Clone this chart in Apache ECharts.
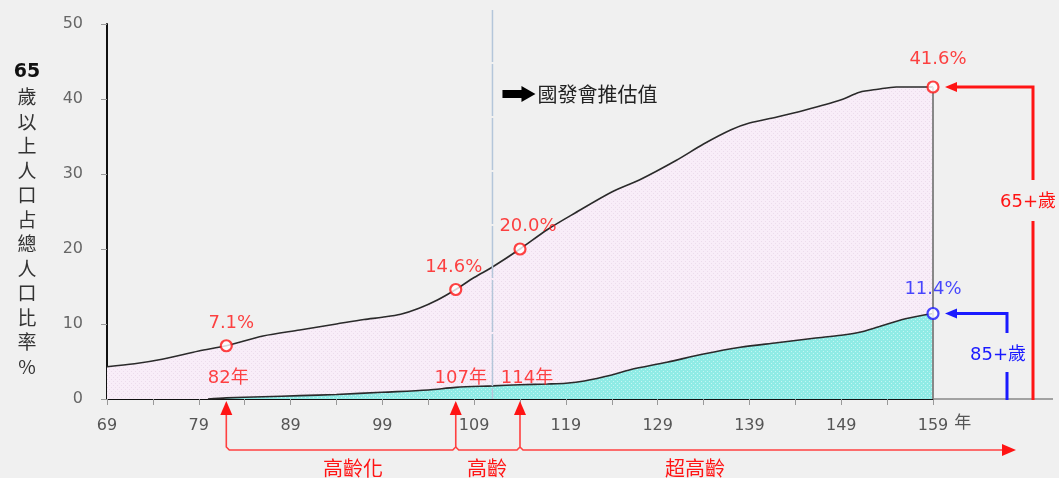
<!DOCTYPE html>
<html>
<head>
<meta charset="utf-8">
<script src="https://cdn.jsdelivr.net/npm/echarts@6/dist/echarts.min.js"></script>
<style>
  html, body { margin: 0; padding: 0; background: #f0f0f0; }
  #chart { width: 1059px; height: 478px; }
</style>
</head>
<body>
<div id="chart"></div>
<script>
// 65歲以上人口占總人口比率（民國年），含國發會推估值
const years65 = [69, 72, 75, 79, 82, 86, 90, 94, 97, 99, 101, 103, 105, 107, 109, 111, 114, 117, 120, 124, 127, 131, 134, 137, 139, 142, 145, 149, 151, 153, 155, 159];
const share65 = [4.3, 4.7, 5.3, 6.4, 7.1, 8.4, 9.2, 10.0, 10.6, 10.9, 11.3, 12.1, 13.2, 14.6, 16.2, 17.6, 20.0, 22.6, 24.8, 27.6, 29.2, 31.8, 34.0, 35.9, 36.8, 37.6, 38.5, 39.9, 40.9, 41.3, 41.6, 41.6];

// 85歲以上人口占總人口比率
const years85 = [80, 82, 86, 90, 94, 99, 104, 107, 111, 114, 117, 119, 121, 124, 126, 130, 134, 138, 142, 146, 149, 151, 153, 156, 159];
const share85 = [0, 0.15, 0.3, 0.45, 0.6, 0.9, 1.2, 1.55, 1.75, 1.9, 2.0, 2.1, 2.4, 3.2, 3.9, 4.9, 6.0, 6.9, 7.5, 8.1, 8.5, 8.9, 9.6, 10.7, 11.4];

// 高齡化、高齡、超高齡門檻年
const milestoneYears = [82, 107, 114];
const milestoneShare = [7.1, 14.6, 20.0];
const stageNames = ['高齡化', '高齡', '超高齡'];

const endYear = 159;
const end65 = 41.6;
const end85 = 11.4;
const projectionStart = 111;
const projectionText = '國發會推估值';

const xMin = 69, xMax = 159, xStep = 5;
const yMin = 0, yMax = 50, yStep = 10;
const yTitle = ['65', '歲', '以', '上', '人', '口', '占', '總', '人', '口', '比', '率', '%'];

const RED = '#ff1414';
const BLUE = '#1a1aff';
const FONT = "'DejaVu Sans', 'Noto Sans CJK TC', sans-serif";
const CJK = "'Noto Sans CJK TC', sans-serif";

function pattern(base, dot) {
  const c = document.createElement('canvas');
  c.width = 4; c.height = 4;
  const g = c.getContext('2d');
  g.fillStyle = base; g.fillRect(0, 0, 4, 4);
  g.fillStyle = dot; g.fillRect(1, 1, 1, 1); g.fillRect(3, 3, 1, 1);
  return { image: c, repeat: 'repeat' };
}

const chart = echarts.init(document.getElementById('chart'), null, { renderer: 'canvas' });

const labelOffsets = { 82: [5, 0], 107: [-2, 0], 114: [8, 0], 159: [5, -5] };
const yearOffsets = { 82: [2, 0], 107: [5, 0], 114: [7, 0] };

const markers65 = milestoneYears.map((y, i) => [y, milestoneShare[i]]).concat([[endYear, end65]]);

chart.setOption({
  backgroundColor: '#f0f0f0',
  animation: false,
  textStyle: { fontFamily: FONT },
  grid: { left: 107, right: 126, top: 24, bottom: 79 },
  xAxis: {
    type: 'value', min: xMin, max: xMax, interval: xStep,
    name: '年', nameLocation: 'end', nameGap: 13,
    nameTextStyle: { color: '#555', fontSize: 17, fontFamily: CJK, align: 'left', verticalAlign: 'top', padding: [14, 0, 0, 0] },
    axisLine: { show: true, lineStyle: { color: '#111', width: 2 } },
    axisTick: { show: true, length: 6, lineStyle: { color: '#999' } },
    splitLine: { show: false },
    axisLabel: {
      color: '#555', fontSize: 16, margin: 19,
      formatter: v => ((v - xMin) % 10 === 0 ? String(v) : '')
    }
  },
  yAxis: {
    type: 'value', min: yMin, max: yMax, interval: yStep,
    name: yTitle.map((t, i) => (i === 0 ? '{b|' + t + '}' : '{n|' + t + '}')).join('\n'),
    nameLocation: 'middle', nameRotate: 0, nameGap: 80,
    nameTextStyle: {
      align: 'center', verticalAlign: 'middle', lineHeight: 24.5, padding: [16, 0, 0, 0],
      rich: {
        b: { fontSize: 19, fontWeight: 'bold', color: '#111', lineHeight: 24.5, fontFamily: FONT },
        n: { fontSize: 19, color: '#333', lineHeight: 24.5, fontFamily: CJK }
      }
    },
    axisLine: { show: true, lineStyle: { color: '#111', width: 2 } },
    axisTick: { show: true, length: 6, lineStyle: { color: '#999' } },
    splitLine: { show: false },
    axisLabel: { color: '#666', fontSize: 16, margin: 24 }
  },
  series: [
    {
      name: '65+歲', type: 'line', smooth: 0.3, showSymbol: false, z: 2,
      data: years65.map((y, i) => [y, share65[i]]),
      lineStyle: { color: '#2a2a2a', width: 1.6 },
      areaStyle: { color: pattern('#f8edf8', '#ecdcec'), opacity: 1 },
      markLine: {
        silent: true, symbol: 'none', label: { show: false },
        lineStyle: { color: '#888', width: 2, type: 'solid' },
        data: [[{ coord: [endYear, 0] }, { coord: [endYear, end65] }]]
      }
    },
    {
      name: '85+歲', type: 'line', smooth: 0.3, showSymbol: false, z: 3,
      data: years85.map((y, i) => [y, share85[i]]),
      lineStyle: { color: '#2a2a2a', width: 1.6 },
      areaStyle: { color: pattern('#8febe5', '#c2f6f3'), opacity: 1 }
    },
    {
      name: 'milestones', type: 'scatter', z: 5,
      symbol: 'circle', symbolSize: 11,
      itemStyle: { color: '#fff', borderColor: RED, borderWidth: 2.2 },
      data: markers65.map(p => ({
        value: p,
        label: { offset: labelOffsets[p[0]] }
      })),
      label: {
        show: true, position: 'top', distance: 7, color: RED, fontSize: 18,
        formatter: p => p.value[1].toFixed(1) + '%'
      }
    },
    {
      name: 'end85', type: 'scatter', z: 5,
      symbol: 'circle', symbolSize: 11,
      itemStyle: { color: '#fff', borderColor: BLUE, borderWidth: 2.2 },
      data: [[endYear, end85]],
      label: {
        show: true, position: 'top', distance: 7, offset: [0, -2], color: BLUE, fontSize: 18,
        formatter: p => p.value[1].toFixed(1) + '%'
      }
    },
    {
      name: 'milestoneYears', type: 'scatter', z: 5,
      symbolSize: 0, silent: true,
      data: milestoneYears.map(y => ({ value: [y, 0], label: { offset: yearOffsets[y] } })),
      label: {
        show: true, position: 'top', distance: 12, color: RED, fontSize: 18,
        formatter: p => p.value[0] + '年'
      }
    }
  ]
});

// annotations placed with the chart's own coordinate conversion
const px = (x, y) => chart.convertToPixel({ gridIndex: 0 }, [x, y]);
const axisY = px(xMin, 0)[1];
const xEnd = px(xMax, 0)[0];
const g = [];

// axis line continues beyond the last year
g.push({ type: 'line', shape: { x1: xEnd, y1: axisY, x2: 1053, y2: axisY }, style: { stroke: '#555', lineWidth: 1 }, z: 1 });

// projection boundary and caption
const xp = px(projectionStart, 0)[0];
g.push({ type: 'line', shape: { x1: xp, y1: 10, x2: xp, y2: axisY }, style: { stroke: '#b4c6da', lineWidth: 1.5, lineDash: [52, 2] }, z: 4 });
const ay = 94, ax = xp + 10;
g.push({ type: 'polygon', shape: { points: [[ax, ay - 4], [ax + 19, ay - 4], [ax + 19, ay - 8], [ax + 33, ay], [ax + 19, ay + 8], [ax + 19, ay + 4], [ax, ay + 4]] }, style: { fill: '#000' }, z: 6 });
g.push({ type: 'text', x: ax + 35, y: ay, style: { text: projectionText, fill: '#222', fontSize: 20, fontFamily: CJK, verticalAlign: 'middle', align: 'left' }, z: 6 });

// stage brackets under the axis
const mx = milestoneYears.map(y => px(y, 0)[0]);
const by = 450, tipY = axisY + 2, headH = 14, headW = 6, r = 3;
const bracketStyle = { stroke: '#ff4040', lineWidth: 1.6, fill: null };
const arrowEnd = 1016;
g.push({ type: 'polyline', shape: { points: [[mx[0], tipY + headH], [mx[0], by - r], [mx[0] + r, by], [mx[1] - r, by], [mx[1], by - r], [mx[1], tipY + headH]] }, style: bracketStyle, z: 6 });
g.push({ type: 'polyline', shape: { points: [[mx[1], by - r], [mx[1] + r, by], [mx[2] - r, by], [mx[2], by - r], [mx[2], tipY + headH]] }, style: bracketStyle, z: 6 });
g.push({ type: 'polyline', shape: { points: [[mx[2], by - r], [mx[2] + r, by], [arrowEnd - 12, by]] }, style: bracketStyle, z: 6 });
mx.forEach(x => {
  g.push({ type: 'polygon', shape: { points: [[x, tipY], [x - headW, tipY + headH], [x + headW, tipY + headH]] }, style: { fill: RED }, z: 6 });
});
g.push({ type: 'polygon', shape: { points: [[arrowEnd, by], [arrowEnd - 14, by - 6], [arrowEnd - 14, by + 6]] }, style: { fill: RED }, z: 6 });
const stageX = [353, 487, 695];
stageNames.forEach((s, i) => {
  g.push({ type: 'text', x: stageX[i], y: 468, style: { text: s, fill: RED, fontSize: 20, fontFamily: CJK, align: 'center', verticalAlign: 'middle' }, z: 6 });
});

// right-hand brackets pointing at the end values
function sideBracket(value, color, xv, gapTop, gapBottom, label, labelX, labelY) {
  const p = px(endYear, value);
  const tip = p[0] + 12;
  g.push({ type: 'polygon', shape: { points: [[tip, p[1]], [tip + 12, p[1] - 5], [tip + 12, p[1] + 5]] }, style: { fill: color }, z: 6 });
  g.push({ type: 'polyline', shape: { points: [[tip + 10, p[1]], [xv, p[1]], [xv, gapTop]] }, style: { stroke: color, lineWidth: 3, fill: null }, z: 6 });
  g.push({ type: 'line', shape: { x1: xv, y1: gapBottom, x2: xv, y2: axisY + 1 }, style: { stroke: color, lineWidth: 3 }, z: 6 });
  g.push({ type: 'text', x: labelX, y: labelY, style: { text: label, fill: color, fontSize: 18, fontFamily: FONT, align: 'left', verticalAlign: 'middle' }, z: 6 });
}
sideBracket(end65, RED, 1033, 180, 221, '65+歲', 1000, 202);
sideBracket(end85, BLUE, 1007, 333, 372, '85+歲', 970, 355);

chart.setOption({ graphic: g });
</script>
</body>
</html>
